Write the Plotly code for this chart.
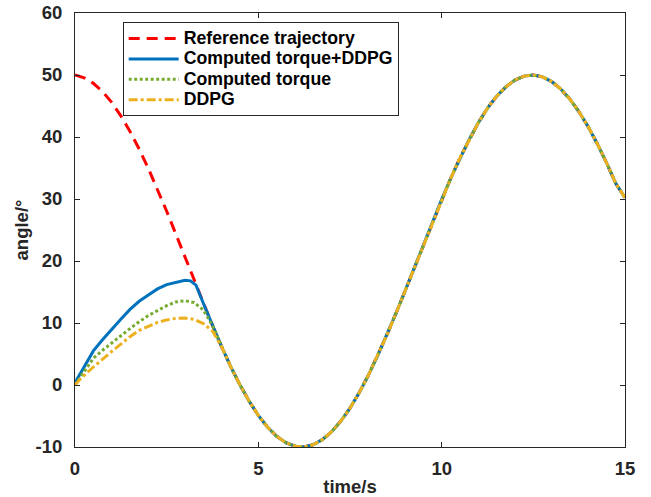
import plotly.graph_objects as go

# time grid (s) and reference trajectory (deg)
t = [0.0, 0.25, 0.5, 0.75, 1.0, 1.25, 1.5, 1.75, 2.0, 2.25, 2.5, 2.75, 3.0, 3.25,
     3.5, 3.75, 4.0, 4.25, 4.5, 4.75, 5.0, 5.25, 5.5, 5.75, 6.0, 6.25, 6.5, 6.75,
     7.0, 7.25, 7.5, 7.75, 8.0, 8.25, 8.5, 8.75, 9.0, 9.25, 9.5, 9.75, 10.0, 10.25,
     10.5, 10.75, 11.0, 11.25, 11.5, 11.75, 12.0, 12.25, 12.5, 12.75, 13.0, 13.25,
     13.5, 13.75, 14.0, 14.25, 14.5, 14.75, 15.0]
ref = [50.0, 49.54, 48.66, 47.33, 45.58, 43.42, 40.90, 38.05, 34.93, 31.60, 28.03,
       24.35, 20.62, 16.88, 13.18, 9.58, 6.16, 2.91, 0.01, -2.62, -4.90, -6.79,
       -8.27, -9.30, -9.87, -9.98, -9.62, -8.80, -7.53, -5.83, -3.73, -1.25, 1.56,
       4.65, 7.98, 11.50, 15.15, 18.88, 22.63, 26.33, 29.94, 33.38, 36.64, 39.61,
       42.31, 44.65, 46.57, 48.09, 49.19, 49.82, 50.00, 49.70, 48.94, 47.73, 46.08,
       44.03, 41.61, 38.84, 35.80, 32.48, 30.2]

# transient part of each controller before it locks onto the reference
ctd_t = [0.0, 0.05, 0.15, 0.25, 0.5, 0.75, 1.0, 1.25, 1.5, 1.75, 2.0, 2.25, 2.5,
         2.75, 3.0, 3.15, 3.3]
ctd_v = [0.0, 0.9, 1.9, 2.9, 5.5, 7.3, 9.0, 10.6, 12.2, 13.5, 14.5, 15.5, 16.2,
         16.6, 16.9, 16.8, 16.1]
ct_t = [0.0, 0.15, 0.5, 0.75, 1.0, 1.25, 1.5, 1.75, 2.0, 2.25, 2.5, 2.75, 3.0,
        3.25, 3.5]
ct_v = [0.0, 1.3, 4.3, 5.6, 6.8, 8.0, 9.1, 10.2, 11.2, 12.0, 12.8, 13.4, 13.6,
        13.3, 12.1]
dd_t = [0.0, 0.15, 0.5, 0.75, 1.0, 1.25, 1.5, 1.75, 2.0, 2.25, 2.5, 2.75, 3.0,
        3.25, 3.5, 3.75]
dd_v = [0.0, 1.0, 2.9, 4.2, 5.4, 6.6, 7.8, 8.8, 9.5, 10.1, 10.5, 10.75, 10.8,
        10.6, 9.9, 8.7]

names = ["Reference trajectory", "Computed torque+DDPG", "Computed torque", "DDPG"]
x_ticks = [0, 5, 10, 15]
y_ticks = [-10, 0, 10, 20, 30, 40, 50, 60]
y_ticklabels = ["-10", "0", "10", "20", "30", "40", "50", "60"]


def joined(tt, vv):
    k = next(i for i, x in enumerate(t) if x > tt[-1])
    return tt + t[k:], vv + ref[k:]


def lg(name):
    return '<span style="font-size:17.7px">' + name + '</span>'


fig = go.Figure()
fig.add_trace(go.Scatter(x=t, y=ref, mode="lines", name=lg(names[0]),
                         line=dict(color="#FF0000", width=3, dash="11px,7px")))
x1, y1 = joined(ctd_t, ctd_v)
fig.add_trace(go.Scatter(x=x1, y=y1, mode="lines", name=lg(names[1]),
                         line=dict(color="#0072BD", width=3)))
x2, y2 = joined(ct_t, ct_v)
fig.add_trace(go.Scatter(x=x2, y=y2, mode="lines", name=lg(names[2]),
                         line=dict(color="#77AC30", width=3, dash="3px,2.5px")))
x3, y3 = joined(dd_t, dd_v)
fig.add_trace(go.Scatter(x=x3, y=y3, mode="lines", name=lg(names[3]),
                         line=dict(color="#EDB120", width=3, dash="9px,3px,3px,3px")))

axcol = "#262626"
fam = "Liberation Sans, Arial, sans-serif"
tickfont = dict(family=fam, size=18.5, color=axcol, weight="bold")
common = dict(showline=True, linecolor=axcol, linewidth=1, mirror="ticks",
              ticks="inside", ticklen=5, tickcolor=axcol, tickwidth=1,
              showgrid=False, zeroline=False, tickfont=tickfont, automargin=False)

fig.update_layout(
    width=651, height=497,
    margin=dict(l=75, r=26, t=13, b=50),
    paper_bgcolor="white", plot_bgcolor="white",
    xaxis=dict(range=[0, 15], tickvals=x_ticks, ticklabelstandoff=5,
               title=dict(text="time/s", font=tickfont, standoff=10), **common),
    yaxis=dict(range=[-10, 60], tickvals=y_ticks, ticktext=y_ticklabels,
               ticklabelstandoff=8,
               title=dict(text="angle/°", font=tickfont, standoff=2), **common),
    legend=dict(x=0.0867, y=0.9786, xanchor="left", yanchor="top",
                bgcolor="white", bordercolor=axcol, borderwidth=1,
                itemwidth=50,
                font=dict(family=fam, size=13.4, color="black", weight="bold")),
    showlegend=True,
)

fig.write_html("out.html")
